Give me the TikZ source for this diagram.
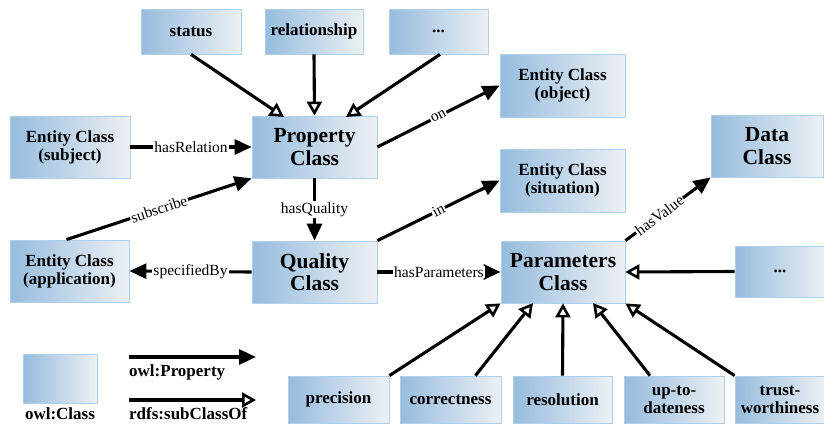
\documentclass[tikz,border=0pt]{standalone}
\usepackage{fontspec}
\setmainfont{Liberation Serif}
\usetikzlibrary{arrows.meta}
\definecolor{boxL}{RGB}{150,188,222}
\definecolor{boxR}{RGB}{236,240,244}
\definecolor{boxB}{RGB}{175,208,235}
\tikzset{
  cls/.style={draw=boxB, line width=0.8pt, left color=boxL, right color=boxR, font=\bfseries\fontsize{17}{18}\selectfont, align=center, inner sep=0pt},
  big/.style={font=\bfseries\fontsize{21.5}{22.5}\selectfont},
  prop/.style={line width=3.1pt, -{Triangle[length=17pt,width=15pt]}},
  sub/.style={line width=3.1pt, -{Triangle[open,length=14pt,width=15pt,line width=2.6pt]}},
  lbl/.style={fill=white, inner sep=1pt, font=\fontsize{15.5}{16}\selectfont},
}
\begin{document}
\begin{tikzpicture}[x=1pt,y=-1pt]
\useasboundingbox (0,0) rectangle (824,426);
% nodes
\node[cls, minimum width=100pt, minimum height=45pt] (status) at (191,31.5) {status};
\node[cls, minimum width=98pt, minimum height=45pt] (relat) at (314,31.5) {relationship};
\node[cls, minimum width=99pt, minimum height=45pt] (dots1) at (438.5,31.5) {...};
\node[cls, minimum width=125pt, minimum height=63pt] (obj) at (562.5,85.5) {Entity Class\\(object)};
\node[cls, minimum width=120pt, minimum height=62pt] (subj) at (70,147) {Entity Class\\(subject)};
\node[cls, big, minimum width=125pt, minimum height=62pt] (prop) at (314.5,147) {Property\\Class};
\node[cls, minimum width=125pt, minimum height=63pt] (sit) at (562.5,180.5) {Entity Class\\(situation)};
\node[cls, big, minimum width=112pt, minimum height=62pt] (data) at (767,146) {Data\\Class};
\node[cls, minimum width=119pt, minimum height=62pt] (app) at (69.5,271) {Entity Class\\(application)};
\node[cls, big, minimum width=125pt, minimum height=62pt] (qual) at (314.5,272) {Quality\\Class};
\node[cls, big, minimum width=124pt, minimum height=62pt] (param) at (563,272) {Parameters\\Class};
\node[cls, minimum width=90pt, minimum height=51pt] (dots2) at (780,271.5) {...};
\node[cls, minimum width=101pt, minimum height=47pt] (prec) at (338.5,399.5) {precision};
\node[cls, minimum width=101pt, minimum height=47pt] (corr) at (450.5,399.5) {correctness};
\node[cls, minimum width=99pt, minimum height=47pt] (reso) at (562.5,399.5) {resolution};
\node[cls, minimum width=100pt, minimum height=47pt] (upto) at (674,399.5) {up-to-\\dateness};
\node[cls, minimum width=90pt, minimum height=47pt] (trust) at (780,399.5) {trust-\\worthiness};
% legend
\node[cls, minimum width=74pt, minimum height=49pt] (leg) at (60,378.5) {};
\node[font=\bfseries\fontsize{17}{18}\selectfont] (legl) at (60,414) {owl:Class};
\coordinate (lp1) at (129,357); \coordinate (lp2) at (256,357);
\coordinate (ls1) at (129,400); \coordinate (ls2) at (256,400);
\draw[prop] (lp1) -- (lp2);
\draw[sub] (ls1) -- (ls2);
\node[font=\bfseries\fontsize{17}{18}\selectfont, anchor=west, inner sep=0pt] (lpl) at (129,372) {owl:Property};
\node[font=\bfseries\fontsize{17}{18}\selectfont, anchor=west, inner sep=0pt] (lsl) at (129,414) {rdfs:subClassOf};
% subclass arrows into property
\coordinate (st2) at (284,117);
\coordinate (da2) at (346,117);
\draw[sub] (status.south) -- (st2);
\draw[sub] (relat.south) -- (prop.north);
\draw[sub] (dots1.south) ++(1.5,0) -- (da2);
% properties
\draw[prop] (subj.east) -- node[lbl] {hasRelation} (prop.west);
\draw[prop] (app.north) ++(-3,0) -- node[lbl, sloped] {subscribe} (prop.south west);
\draw[prop] (prop.east) -- node[lbl, sloped] {on} (obj.west);
\draw[prop] (prop.south) -- node[lbl] {hasQuality} (qual.north);
\draw[prop] (qual.west) -- node[lbl] {specifiedBy} (app.east);
\draw[prop] (qual.north east) -- node[lbl, sloped] {in} (sit.west);
\draw[prop] (qual.east) -- node[lbl] {hasParameters} (param.west);
\draw[prop] (param.north east) -- node[lbl, sloped, pos=0.4] {hasValue} (data.south west);
% subclass into parameters
\coordinate (pc2) at (533,303);
\coordinate (pu2) at (593,303);
\draw[sub] (dots2.west) -- (param.east);
\draw[sub] (prec.north east) -- (param.south west);
\draw[sub] (corr.north east) ++(-26,0) -- (pc2);
\draw[sub] (reso.north) -- (param.south);
\draw[sub] (upto.north) ++(-24,0) -- (pu2);
\draw[sub] (trust.north west) -- (param.south east);
\end{tikzpicture}
\end{document}
